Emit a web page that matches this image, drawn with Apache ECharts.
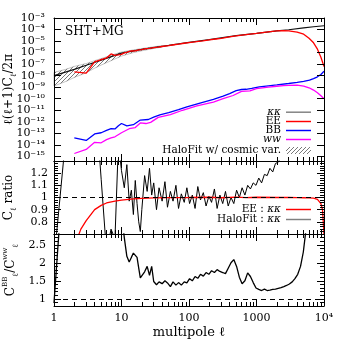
<!DOCTYPE html>
<html>
<head>
<meta charset="utf-8">
<script src="https://cdn.jsdelivr.net/npm/echarts@6.0.0/dist/echarts.min.js"></script>
<style>
  html, body { margin: 0; background: #fff; }
  #main { width: 343px; height: 343px; }
</style>
</head>
<body>
<div id="main"></div>
<script>
const FONT = "'DejaVu Serif', 'Liberation Serif', serif";

// top panel: log10 of l(l+1)C_l/2pi
const ellKK = [1, 2, 3, 5, 10, 20, 50, 100, 200, 500, 1000, 2000, 3000, 5000, 7000, 10000];
const logKK = [-8.0, -7.45, -7.1, -6.65, -6.05, -5.72, -5.38, -5.12, -4.88, -4.53, -4.34, -4.12, -4.02, -3.85, -3.76, -3.67];

// cosmic variance band round HaloFit
const ellBand = [1, 1.5, 2, 3, 4, 5, 7, 10, 15, 20, 30, 40];
const logBandHi = [-7.72, -7.45, -7.2, -6.95, -6.7, -6.52, -6.23, -5.95, -5.77, -5.65, -5.5, -5.4];
const logBandLo = [-8.9, -8.5, -8.15, -7.75, -7.35, -7.08, -6.7, -6.3, -6.0, -5.84, -5.64, -5.52];

const ellEE = [2, 3, 4, 5, 6, 7, 8, 9, 10, 11, 12, 13, 14, 16, 18, 20, 23, 26, 30, 35, 40, 50, 60, 70, 85, 100, 130, 160, 200, 250, 300, 400, 500, 700, 1000, 1500, 2000, 2500, 3000, 4000, 5000, 6000, 7000, 8000, 9000, 10000];
const logEE = [-7.68, -7.78, -6.8, -6.6, -6.46, -6.12, -6.25, -6.2, -6.15, -6.02, -5.98, -5.9, -5.86, -5.85, -5.76, -5.74, -5.66, -5.64, -5.56, -5.52, -5.47, -5.4, -5.32, -5.27, -5.19, -5.13, -5.04, -4.98, -4.9, -4.82, -4.76, -4.64, -4.55, -4.45, -4.34, -4.2, -4.12, -4.1, -4.12, -4.22, -4.4, -4.75, -5.15, -5.7, -6.4, -7.2];

const ellBB = [2, 3, 4, 5, 6, 7, 8, 9, 10, 12, 15, 19, 25, 30, 37, 50, 70, 93, 150, 230, 320, 400, 500, 600, 700, 850, 1100, 1500, 2000, 3000, 4000, 5000, 6100, 7000, 8000, 9000, 10000];
const logBB = [-13.4, -13.62, -13.05, -12.95, -12.75, -12.6, -12.62, -12.35, -12.15, -12.35, -12.25, -11.85, -11.8, -11.6, -11.4, -11.2, -10.95, -10.7, -10.35, -10.05, -9.78, -9.55, -9.3, -9.2, -9.18, -9.1, -8.97, -8.88, -8.8, -8.68, -8.58, -8.5, -8.38, -8.25, -8.1, -7.9, -7.62];

const ellWW = [2, 3, 4, 5, 6, 7, 8, 10, 13, 16, 19, 23, 27, 35, 53, 80, 131, 230, 320, 450, 600, 800, 1000, 1500, 2000, 2500, 3000, 4000, 5000, 6000, 7000, 8000, 9000, 10000];
const logWW = [-14.75, -14.4, -13.78, -13.82, -13.55, -13.4, -13.3, -12.95, -12.6, -12.5, -12.1, -12.15, -12.05, -11.62, -11.38, -11.0, -10.62, -10.3, -10.0, -9.72, -9.36, -9.32, -9.12, -9.0, -8.92, -8.86, -8.85, -8.82, -8.9, -9.05, -9.25, -9.48, -9.74, -10.0];

// middle and bottom panels: ratios
const ellEERatio = [2, 2.5, 3, 4, 5, 6, 8, 10, 15, 20, 30, 50, 100, 200, 300, 500, 700, 1000, 2000, 3000, 4000, 5000, 6000, 7000, 8000, 9000, 9500, 10000];
const eeRatio = [0.6, 0.74, 0.81, 0.9, 0.935, 0.955, 0.97, 0.978, 0.988, 0.993, 0.997, 0.999, 1.0, 1.002, 0.998, 1.003, 0.999, 1.002, 1.0, 1.0, 0.999, 0.998, 0.997, 0.995, 0.985, 0.95, 0.9, 0.7];

const ellRatio = [
  1, 2, 3, 4, 5, 6, 7, 8, 9, 10,
  11, 12, 13, 14, 15, 16, 17, 18, 19, 20,
  22, 24, 26, 28, 30,
  33, 36, 40, 44, 48,
  53, 58, 64, 70, 77,
  85, 93, 102, 112, 123,
  135, 148, 163, 179, 197,
  216, 238, 261, 287, 316,
  347, 381, 419, 461, 507,
  557, 612, 673, 740, 813,
  894, 983, 1080, 1190, 1310,
  1440, 1580, 1740, 1910, 2100,
  2310, 2540, 2790, 3070, 3380,
  3710, 4080, 4490, 4940, 5430,
  5970
];
const haloRatio = [
  0.48, 2.24, 2.6, 1.9, 1.15, 0.55, 0.74, 0.66, 1.45, 1.22,
  1.08, 1.27, 0.97, 1.06, 0.86, 1.14, 0.95, 0.8, 0.72, 0.9,
  1.18, 1.05, 1.24, 1.02, 1.12,
  0.9, 1.08, 0.97, 1.13, 0.92,
  1.05, 0.97, 1.1, 0.91, 1.03,
  0.96, 1.08, 0.95, 1.02, 0.91,
  1.09, 0.98, 1.04, 0.93, 1.01,
  0.96, 1.07, 0.91, 1.02, 0.95,
  1.05, 0.93, 1.0, 0.95, 1.06,
  1.0, 1.08, 1.02, 1.1, 1.07,
  1.12, 1.1, 1.16, 1.12, 1.19,
  1.18, 1.24, 1.21, 1.28, 1.29,
  1.34, 1.37, 1.42, 1.46, 1.52,
  1.58, 1.65, 1.72, 1.8, 1.9,
  2.0
];
const bbwwRatio = [
  0.88, 9, 6, 5, 5, 4, 4.5, 5, 4, 3.4,
  2.7, 2.18, 2.02, 2.15, 2.27, 2.25, 2.15, 1.85, 1.58, 1.62,
  1.75, 1.9, 1.65, 1.9, 1.48,
  1.39, 1.47, 1.42, 1.5, 1.44,
  1.34, 1.47, 1.38, 1.45, 1.38,
  1.47, 1.44, 1.56, 1.5, 1.62,
  1.57, 1.68, 1.63, 1.73, 1.68,
  1.78, 1.73, 1.81, 1.76, 1.73,
  1.7, 1.85, 2.0, 2.09, 1.9,
  1.6, 1.42, 1.5, 1.72, 1.62,
  1.45, 1.3, 1.26, 1.23, 1.27,
  1.23, 1.24, 1.26, 1.27, 1.29,
  1.31, 1.34, 1.37, 1.41, 1.47,
  1.56, 1.68, 1.9, 2.3, 2.95,
  3.7
];

// tick labels
const xTickLabels = ['1', '10', '100', '1000', '10⁴'];
const topExponents = [-15, -14, -13, -12, -11, -10, -9, -8, -7, -6, -5, -4, -3];
const ratioTicks = [0.8, 0.9, 1, 1.1, 1.2];
const bbwwTicks = [1, 1.5, 2, 2.5];

const SUP = { '-': '⁻', '0': '⁰', '1': '¹', '2': '²', '3': '³', '4': '⁴', '5': '⁵', '6': '⁶', '7': '⁷', '8': '⁸', '9': '⁹' };
const powTen = (e) => '10' + String(e).split('').map((c) => SUP[c]).join('');

const pts = (ell, val) => ell.map((l, i) => [Math.log10(l), val[i]]);

const xMinor = [];
for (let d = 0; d < 4; d++) {
  for (let k = 2; k < 10; k++) xMinor.push(d + Math.log10(k));
}

// diagonal hatching for the cosmic variance band
const hatch = document.createElement('canvas');
hatch.width = 4;
hatch.height = 4;
const hc = hatch.getContext('2d');
hc.strokeStyle = '#555';
hc.lineWidth = 0.8;
hc.beginPath();
hc.moveTo(0, 4); hc.lineTo(4, 0);
hc.moveTo(-1, 1); hc.lineTo(1, -1);
hc.moveTo(3, 5); hc.lineTo(5, 3);
hc.stroke();
const hatchFill = { image: hatch, repeat: 'repeat' };

const black = { color: '#000', width: 1 };

function xAxes(grid, pos, withLabels) {
  const major = {
    type: 'value', gridIndex: grid, position: pos, min: 0, max: 4, interval: 1, z: 5,
    axisLine: { onZero: false, lineStyle: black },
    axisTick: { inside: true, length: 7, lineStyle: black },
    axisLabel: { show: false },
    splitLine: { show: false }
  };
  if (withLabels) {
    major.axisLabel = {
      margin: 6, color: '#000', fontFamily: FONT, fontSize: 11, lineHeight: 12,
      showMinLabel: true, showMaxLabel: true,
      formatter: (v) => xTickLabels[Math.round(v)]
    };
    major.name = 'multipole ℓ';
    major.nameLocation = 'middle';
    major.nameGap = 20;
    major.nameMoveOverlap = false;
    major.nameTextStyle = { fontFamily: FONT, fontSize: 13, color: '#000' };
  }
  const minor = {
    type: 'value', gridIndex: grid, position: pos, min: 0, max: 4, z: 5,
    axisLine: { show: false, onZero: false },
    axisTick: { inside: true, length: 4, lineStyle: black, customValues: xMinor },
    axisLabel: { show: false },
    splitLine: { show: false }
  };
  return [major, minor];
}

const nameStyle = {
  fontFamily: FONT, fontSize: 12, color: '#000', lineHeight: 18,
  rich: {
    sub: { fontFamily: FONT, fontSize: 8, lineHeight: 8, verticalAlign: 'bottom', color: '#000' },
    sup: { fontFamily: FONT, fontSize: 7, lineHeight: 7, verticalAlign: 'top', color: '#000' }
  }
};

const yAxes = [
  // top panel
  {
    type: 'value', gridIndex: 0, position: 'left', min: -15.4, max: -3, z: 5,
    axisLine: { onZero: false, lineStyle: black },
    axisTick: { inside: true, length: 7, lineStyle: black, customValues: topExponents },
    axisLabel: {
      customValues: topExponents, margin: 9, color: '#000', fontFamily: FONT, fontSize: 11, lineHeight: 10,
      showMinLabel: true, showMaxLabel: true,
      formatter: (v) => powTen(v)
    },
    splitLine: { show: false },
    name: 'ℓ(ℓ+1)C{sub|ℓ}/2π', nameLocation: 'middle', nameGap: 36, nameMoveOverlap: false,
    nameTextStyle: nameStyle
  },
  {
    type: 'value', gridIndex: 0, position: 'right', min: -15.4, max: -3, z: 5,
    axisLine: { onZero: false, lineStyle: black },
    axisTick: { inside: true, length: 7, lineStyle: black, customValues: topExponents },
    axisLabel: { show: false }, splitLine: { show: false }
  },
  // middle panel
  {
    type: 'value', gridIndex: 1, position: 'left', min: 0.7, max: 1.3, interval: 0.1, z: 5,
    axisLine: { onZero: false, lineStyle: black },
    axisTick: { inside: true, length: 7, lineStyle: black },
    minorTick: { show: true, splitNumber: 5, length: 4, lineStyle: black },
    axisLabel: {
      customValues: ratioTicks, margin: 6, color: '#000', fontFamily: FONT, fontSize: 11, lineHeight: 11,
      showMinLabel: true, showMaxLabel: true
    },
    splitLine: { show: false },
    name: 'C{sub|ℓ} ratio', nameLocation: 'middle', nameGap: 36, nameMoveOverlap: false,
    nameTextStyle: nameStyle
  },
  {
    type: 'value', gridIndex: 1, position: 'right', min: 0.7, max: 1.3, interval: 0.1, z: 5,
    axisLine: { onZero: false, lineStyle: black },
    axisTick: { inside: true, length: 7, lineStyle: black },
    minorTick: { show: true, splitNumber: 5, length: 4, lineStyle: black },
    axisLabel: { show: false }, splitLine: { show: false }
  },
  // bottom panel
  {
    type: 'value', gridIndex: 2, position: 'left', min: 0.8, max: 2.8, z: 5,
    axisLine: { onZero: false, lineStyle: black },
    axisTick: { inside: true, length: 7, lineStyle: black, customValues: bbwwTicks },
    axisLabel: {
      customValues: bbwwTicks, margin: 8, color: '#000', fontFamily: FONT, fontSize: 11, lineHeight: 12,
      showMinLabel: true, showMaxLabel: true
    },
    splitLine: { show: false },
    name: 'C{sup|BB}{sub|ℓ}/C{sup|ww}{sub|ℓ}', nameLocation: 'middle', nameGap: 34, nameMoveOverlap: false,
    nameTextStyle: nameStyle
  },
  {
    type: 'value', gridIndex: 2, position: 'left', min: 0.8, max: 2.8, interval: 0.1, z: 5,
    axisLine: { show: false, onZero: false },
    axisTick: { inside: true, length: 4, lineStyle: black },
    axisLabel: { show: false }, splitLine: { show: false }
  },
  {
    type: 'value', gridIndex: 2, position: 'right', min: 0.8, max: 2.8, z: 5,
    axisLine: { onZero: false, lineStyle: black },
    axisTick: { inside: true, length: 7, lineStyle: black, customValues: bbwwTicks },
    axisLabel: { show: false }, splitLine: { show: false }
  },
  {
    type: 'value', gridIndex: 2, position: 'right', min: 0.8, max: 2.8, interval: 0.1, z: 5,
    axisLine: { show: false, onZero: false },
    axisTick: { inside: true, length: 4, lineStyle: black },
    axisLabel: { show: false }, splitLine: { show: false }
  }
];

const xAxesAll = [].concat(
  xAxes(0, 'bottom', false), xAxes(0, 'top', false),
  xAxes(1, 'bottom', false), xAxes(1, 'top', false),
  xAxes(2, 'bottom', true), xAxes(2, 'top', false)
);

const line = (name, x, y, data, color, width, extra) => Object.assign({
  name, type: 'line', xAxisIndex: x, yAxisIndex: y, data,
  symbol: 'none', color, lineStyle: { color, width }, silent: true
}, extra || {});

const unity = {
  silent: true, symbol: 'none', label: { show: false },
  lineStyle: { type: [5, 4], color: '#000', width: 1 },
  data: [{ yAxis: 1 }]
};

const LINE_ICON = 'path://M0,0H24V1.4H0Z';
const legendText = {
  fontFamily: FONT, fontSize: 10.5, color: '#000', lineHeight: 10,
  rich: { i: { fontFamily: FONT, fontStyle: 'italic', fontSize: 10.5, lineHeight: 10, color: '#000' } }
};
const legendFmt = (name) => name.replace('κκ', '{i|κκ}').replace(/^ww$/, '{i|ww}');
// one legend per row so the rows sit where the reference has them
const legendRow = (name, centerY, icon, itemStyle) => ({
  orient: 'vertical', align: 'right', right: 32, top: centerY - 5, padding: 0,
  itemWidth: 25, itemHeight: 7, itemGap: 0, textStyle: legendText, formatter: legendFmt,
  selectedMode: false,
  data: [{ name, icon, itemStyle: Object.assign({ borderWidth: 0 }, itemStyle) }]
});

const option = {
  animation: false,
  title: {
    text: 'SHT+MG', left: 65, top: 26, padding: 0,
    textStyle: { fontFamily: FONT, fontSize: 12, fontWeight: 'normal', color: '#000' }
  },
  grid: [
    { left: 54, right: 19, top: 18, height: 143, outerBoundsMode: 'none' },
    { left: 54, right: 19, top: 161, height: 73, outerBoundsMode: 'none' },
    { left: 54, right: 19, top: 234, height: 72, outerBoundsMode: 'none' }
  ],
  xAxis: xAxesAll,
  yAxis: yAxes,
  legend: [
    legendRow('κκ', 111.7, LINE_ICON, { color: '#808080' }),
    legendRow('EE', 121, LINE_ICON, {}),
    legendRow('BB', 130, LINE_ICON, {}),
    legendRow('ww', 139, LINE_ICON, {}),
    legendRow('HaloFit w/ cosmic var.', 150, 'rect', { color: hatchFill }),
    legendRow('EE : κκ', 209, LINE_ICON, {}),
    legendRow('HaloFit : κκ', 219, LINE_ICON, { color: '#808080' })
  ],
  series: [
    {
      type: 'custom', name: 'HaloFit w/ cosmic var.', xAxisIndex: 0, yAxisIndex: 0,
      data: [[0, logBandLo[0]]], silent: true, color: '#777',
      renderItem: (params, api) => {
        const up = ellBand.map((l, i) => api.coord([Math.log10(l), logBandHi[i]]));
        const lo = ellBand.map((l, i) => api.coord([Math.log10(l), logBandLo[i]])).reverse();
        return {
          type: 'polygon',
          shape: { points: up.concat(lo) },
          style: { fill: hatchFill, stroke: '#888', lineWidth: 0.5 }
        };
      }
    },
    line('κκ', 0, 0, pts(ellKK, logKK), '#111', 1.2),
    line('EE', 0, 0, pts(ellEE, logEE), '#ff0000', 1.3),
    line('BB', 0, 0, pts(ellBB, logBB), '#0000ff', 1.3),
    line('ww', 0, 0, pts(ellWW, logWW), '#ff00ff', 1.3),

    line('HaloFit : κκ', 4, 2, pts(ellRatio, haloRatio), '#000', 1, { markLine: unity }),
    line('EE : κκ', 4, 2, pts(ellEERatio, eeRatio), '#ff0000', 1.3),

    line('BB : ww', 8, 4, pts(ellRatio, bbwwRatio), '#000', 1.3, { markLine: unity })
  ]
};

const myChart = echarts.init(document.getElementById('main'));
myChart.setOption(option);
</script>
</body>
</html>
